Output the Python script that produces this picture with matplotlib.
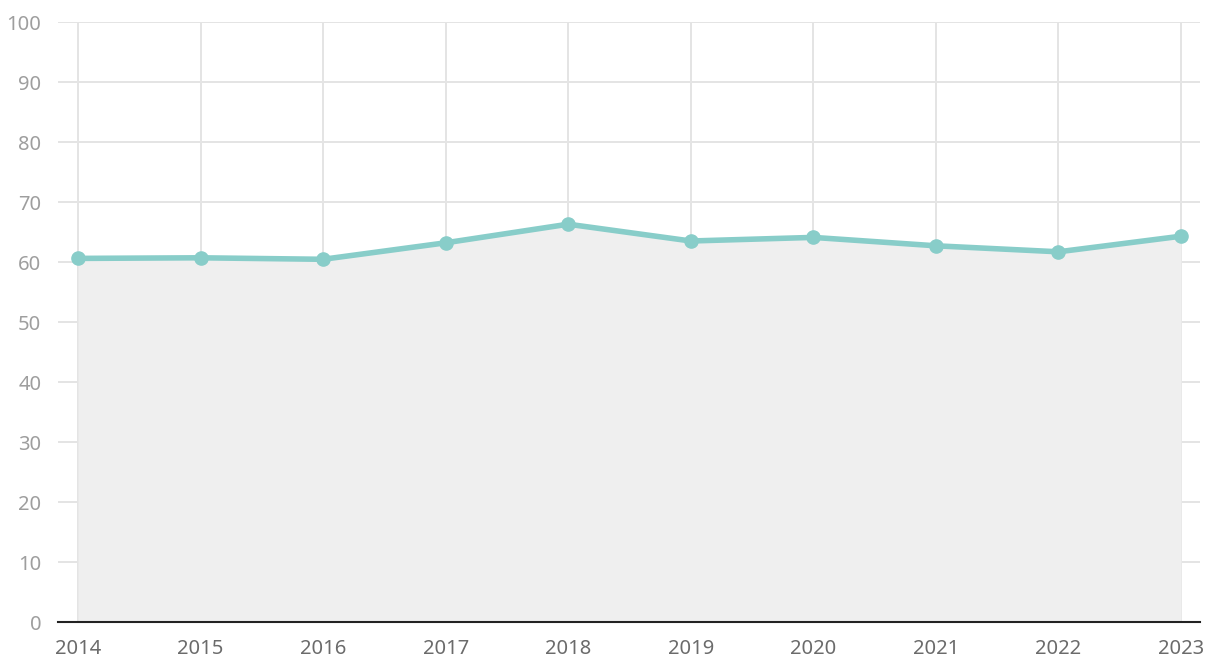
import numpy as np
import matplotlib.pyplot as plt

years = [2014, 2015, 2016, 2017, 2018, 2019, 2020, 2021, 2022, 2023]
values = [60.6, 60.7, 60.45, 63.2, 66.3, 63.5, 64.1, 62.7, 61.7, 64.3]
y_ticks = list(range(0, 101, 10))

line_color = '#88cdc9'
fill_color = '#efefef'
grid_color = '#e4e4e4'

plt.rcParams['font.family'] = ['Noto Sans', 'DejaVu Sans']

fig = plt.figure(figsize=(12.2, 6.72), dpi=100)
ax = fig.add_axes([58 / 1220, 50 / 672, 1142 / 1220, 600 / 672])

ax.fill_between(years, 0, values, color=fill_color, zorder=1, linewidth=0)
ax.plot(years, values, color=line_color, lw=4, marker='o', markersize=9.5,
        solid_capstyle='round', zorder=3, clip_on=False)

ax.set_xlim(2013.837, 2023.155)
ax.set_ylim(0, 100)
ax.set_xticks(years)
ax.set_xticklabels([str(y) for y in years])
ax.set_yticks(y_ticks)

ax.grid(True, color=grid_color, lw=1.4, zorder=0)
ax.set_axisbelow(True)

for s in ['top', 'right', 'left']:
    ax.spines[s].set_visible(False)
ax.spines['bottom'].set_color('#222222')
ax.spines['bottom'].set_linewidth(1.5)
ax.spines['bottom'].set_zorder(4)

ax.tick_params(axis='y', length=0, pad=12, labelsize=14.5, labelcolor='#9e9e9e')
ax.tick_params(axis='x', length=0, pad=12, labelsize=14.5, labelcolor='#6b6b6b')

fig.savefig('out.png', dpi=100)
